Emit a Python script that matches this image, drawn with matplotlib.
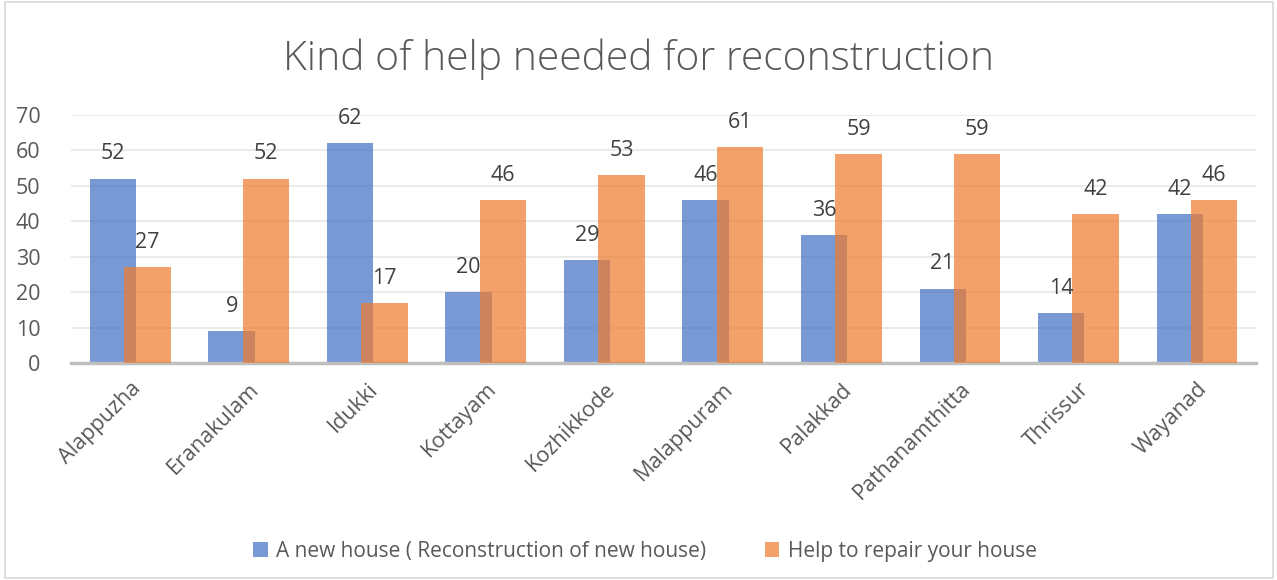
import numpy as np
import matplotlib.pyplot as plt
from matplotlib.patches import Rectangle

# districts and survey counts
districts = ['Alappuzha', 'Eranakulam', 'Idukki', 'Kottayam', 'Kozhikkode',
             'Malappuram', 'Palakkad', 'Pathanamthitta', 'Thrissur', 'Wayanad']
new_house = [52, 9, 62, 20, 29, 46, 36, 21, 14, 42]
repair_house = [27, 52, 17, 46, 53, 61, 59, 59, 42, 46]
series_names = ['A new house ( Reconstruction of new house)', 'Help to repair your house']

plt.rcParams['font.family'] = ['Open Sans', 'DejaVu Sans']
grey = '#595959'

fig = plt.figure(figsize=(12.77, 5.8), dpi=100)
ax = fig.add_axes([0.0556, 0.374, 0.928, 0.428])

ind = np.arange(len(districts))
width = 0.39
shift = 0.145
b1 = ax.bar(ind - shift, new_house, width, color='#4472C4', alpha=0.72, label=series_names[0], zorder=2)
b2 = ax.bar(ind + shift, repair_house, width, color='#ED7D31', alpha=0.72, label=series_names[1], zorder=3)

for x, v in zip(ind - shift, new_house):
    ax.text(x, v + 4, str(v), ha='center', va='bottom', fontsize=15.5, color='#404040')
for x, v in zip(ind + shift, repair_house):
    ax.text(x, v + 4, str(v), ha='center', va='bottom', fontsize=15.5, color='#404040')

ax.set_xlim(-0.5, len(districts) - 0.5)
ax.set_ylim(0, 70)
ax.set_yticks(range(0, 71, 10))
ax.grid(axis='y', color='#E6E6E6', linewidth=1.2, zorder=0)
for s in ['top', 'right', 'left']:
    ax.spines[s].set_visible(False)
ax.spines['bottom'].set_color('#BFBFBF')
ax.spines['bottom'].set_linewidth(2.5)
ax.tick_params(axis='both', length=0, labelsize=15.5, colors=grey)
ax.tick_params(axis='y', pad=22)
ax.tick_params(axis='x', pad=11)
ax.set_xticks(ind)
ax.set_xticklabels(districts, rotation=45, ha='right', rotation_mode='anchor')

fig.text(0.5, 0.897, 'Kind of help needed for reconstruction', ha='center', va='center',
         fontsize=29.4, color=grey, fontweight='light')

leg = fig.legend(handles=[b1, b2], loc='center', bbox_to_anchor=(0.505, 0.05), ncol=2,
                 frameon=False, fontsize=15, handlelength=0.7, handleheight=0.7,
                 columnspacing=2.8, handletextpad=0.4)
for t in leg.get_texts():
    t.set_color(grey)

# outer chart border
fig.patches.append(Rectangle((0.004, 0.003), 0.993, 0.994, transform=fig.transFigure,
                             fill=False, edgecolor='#D9D9D9', linewidth=1.2))

plt.savefig('out.png', dpi=100)
